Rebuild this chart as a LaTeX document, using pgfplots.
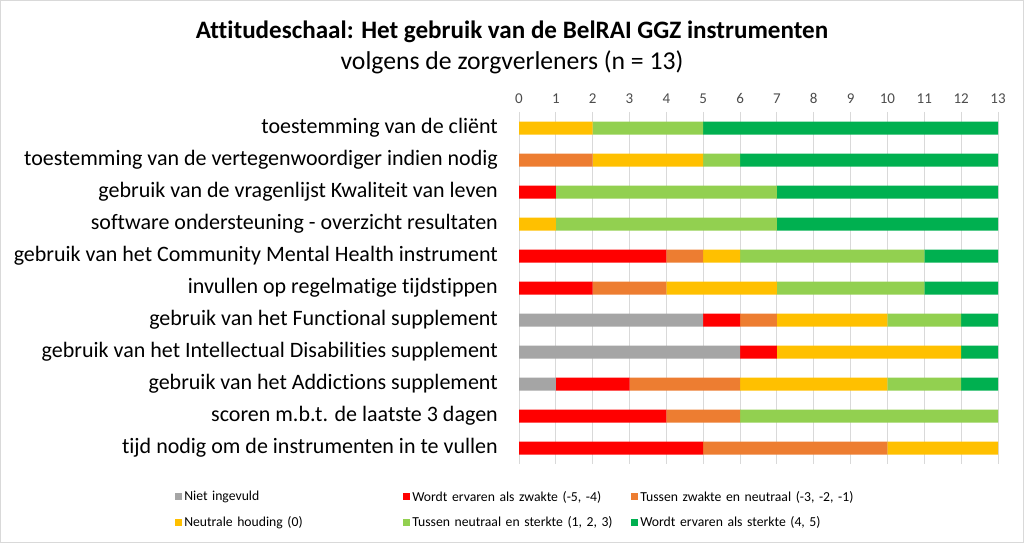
\documentclass[border=0pt]{standalone}
\usepackage{pgfplots}
\usepackage{pgfplotstable}
\pgfplotsset{compat=1.18}
\usepackage{fontspec}
\setmainfont{Carlito}[Ligatures={NoCommon}]
\definecolor{cna}{HTML}{A5A5A5}
\definecolor{czw}{HTML}{FF0000}
\definecolor{czn}{HTML}{ED7D31}
\definecolor{cneu}{HTML}{FFC000}
\definecolor{cns}{HTML}{92D050}
\definecolor{cst}{HTML}{00B050}
\definecolor{gridc}{HTML}{D9D9D9}
\pgfplotstableread{
y na zw zn neu ns st
0 0 0 0 2 3 8
1 0 0 2 3 1 7
2 0 1 0 0 6 6
3 0 0 0 1 6 6
4 0 4 1 1 5 2
5 0 2 2 3 4 2
6 5 1 1 3 2 1
7 6 1 0 5 0 1
8 1 2 3 4 2 1
9 0 4 2 0 7 0
10 0 5 5 3 0 0
}\datatable
\begin{document}
\begin{tikzpicture}[x=1pt,y=1pt]
\useasboundingbox (0,0) rectangle (1024,543);
\draw[gridc, line width=1pt] (0.5,0.5) rectangle (1023.5,542.5);
\node[font=\fontsize{25.1}{28}\selectfont\bfseries] at (512,511) {Attitudeschaal: Het gebruik van de BelRAI GGZ instrumenten};
\node[font=\fontsize{25.7}{28}\selectfont] at (512,481) {volgens de zorgverleners (n = 13)};
\begin{axis}[
  at={(519pt,79pt)}, anchor=south west,
  scale only axis, width=479pt, height=352pt,
  xbar stacked, bar width=13pt,
  xmin=0, xmax=13, ymin=-0.5, ymax=10.5, y dir=reverse,
  xtick={0,...,13}, ytick={0,...,10},
  xticklabel pos=upper,
  /pgf/number format/assume math mode=true,
  xticklabel style={font=\fontsize{15}{17}\selectfont, color=black!70, yshift=5pt},
  yticklabel style={font=\fontsize{22}{25}\selectfont, anchor=east, inner sep=0pt, xshift=-21pt},
  yticklabels={toestemming van de cliënt,
    toestemming van de vertegenwoordiger indien nodig,
    gebruik van de vragenlijst Kwaliteit van leven,
    software ondersteuning - overzicht resultaten,
    gebruik van het Community Mental Health instrument,
    invullen op regelmatige tijdstippen,
    gebruik van het Functional supplement,
    gebruik van het Intellectual Disabilities supplement,
    gebruik van het Addictions supplement,
    scoren m.b.t. de laatste 3 dagen,
    tijd nodig om de instrumenten in te vullen},
  axis line style={draw=none}, tick style={draw=none},
  xmajorgrids, grid style={gridc, line width=1pt},
  legend columns=3,
  legend style={at={(-0.718,-0.0705)}, anchor=north west, draw=none, fill=none,
    font=\fontsize{13.7}{15}\selectfont, inner sep=0pt,
    /tikz/every even column/.append style={column sep=0pt},
    row sep=10pt,
    nodes={text width=217pt, align=left, inner sep=2pt}},
  legend image code/.code={\fill[#1] (0pt,-3.5pt) rectangle (7pt,3.5pt);},
]
\addplot[fill=cna, draw=none] table[x=na, y=y] {\datatable};
\addplot[fill=czw, draw=none] table[x=zw, y=y] {\datatable};
\addplot[fill=czn, draw=none] table[x=zn, y=y] {\datatable};
\addplot[fill=cneu, draw=none] table[x=neu, y=y] {\datatable};
\addplot[fill=cns, draw=none] table[x=ns, y=y] {\datatable};
\addplot[fill=cst, draw=none] table[x=st, y=y] {\datatable};
\legend{Niet ingevuld, {Wordt ervaren als zwakte (-5, -4)}, {Tussen zwakte en neutraal (-3, -2, -1)},
  Neutrale houding (0), {Tussen neutraal en sterkte (1, 2, 3)}, {Wordt ervaren als sterkte (4, 5)}}
\end{axis}
\end{tikzpicture}
\end{document}
